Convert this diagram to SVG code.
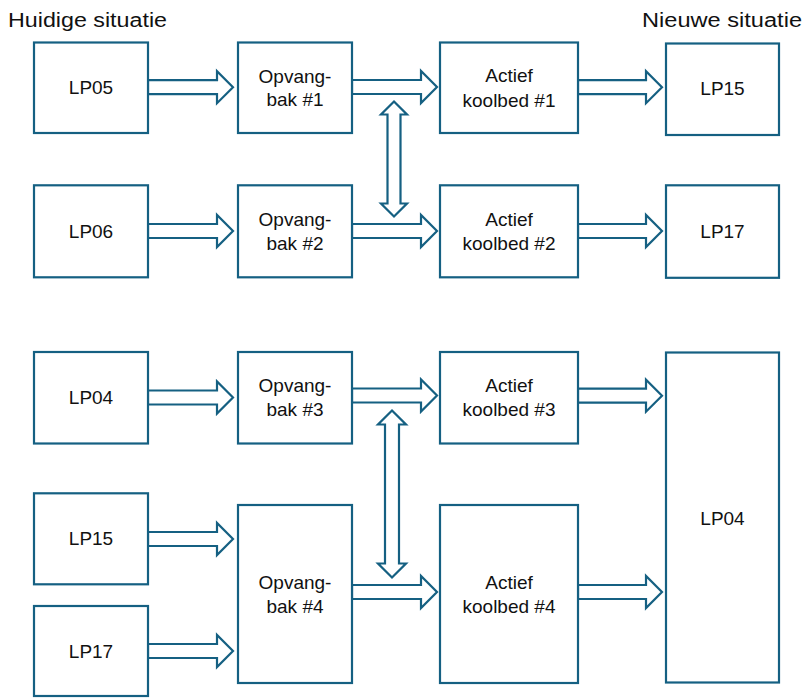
<svg xmlns="http://www.w3.org/2000/svg" width="805" height="698" viewBox="0 0 805 698">
<style>
.box{fill:#ffffff;stroke:#156082;stroke-width:2.2}
.arr{fill:#ffffff;stroke:#156082;stroke-width:2.2;stroke-linejoin:miter}
.t{font-family:"Liberation Sans",Arial,sans-serif;font-size:19px;fill:#111111;text-anchor:middle}
.h{font-family:"Liberation Sans",Arial,sans-serif;font-size:20px;fill:#111111}
</style>
<rect width="805" height="698" fill="#ffffff"/>
<g id="headings">
<text class="h" x="8" y="27" textLength="159" lengthAdjust="spacingAndGlyphs">Huidige situatie</text>
<text class="h" x="642" y="27" textLength="160" lengthAdjust="spacingAndGlyphs">Nieuwe situatie</text>
</g>
<g id="connectors">
<polygon class="arr" points="148,80.2 217,80.2 217,71.2 233,87.2 217,103.2 217,94.2 148,94.2"/>
<polygon class="arr" points="352,80 421,80 421,71 437,87 421,103 421,94 352,94"/>
<polygon class="arr" points="578,80.2 646,80.2 646,71.2 662,87.2 646,103.2 646,94.2 578,94.2"/>
<polygon class="arr" points="148,224 217,224 217,215 233,231 217,247 217,238 148,238"/>
<polygon class="arr" points="352,224 421,224 421,215 437,231 421,247 421,238 352,238"/>
<polygon class="arr" points="578,224 646,224 646,215 662,231 646,247 646,238 578,238"/>
<polygon class="arr" points="148,390.5 217,390.5 217,381.5 233,397.5 217,413.5 217,404.5 148,404.5"/>
<polygon class="arr" points="352,388.5 421,388.5 421,379.5 437,395.5 421,411.5 421,402.5 352,402.5"/>
<polygon class="arr" points="578,388.7 646,388.7 646,379.7 662,395.7 646,411.7 646,402.7 578,402.7"/>
<polygon class="arr" points="148,532 217,532 217,523 233,539 217,555 217,546 148,546"/>
<polygon class="arr" points="148,644 217,644 217,635 233,651 217,667 217,658 148,658"/>
<polygon class="arr" points="352,585 421,585 421,576 437,592 421,608 421,599 352,599"/>
<polygon class="arr" points="578,585 646,585 646,576 662,592 646,608 646,599 578,599"/>
<polygon class="arr" points="394,101.5 407,114.5 400.5,114.5 400.5,203.5 407,203.5 394,216.5 381,203.5 387.5,203.5 387.5,114.5 381,114.5"/>
<polygon class="arr" points="392,410.5 406,424.5 399,424.5 399,563.5 406,563.5 392,577.5 378,563.5 385,563.5 385,424.5 378,424.5"/>
</g>
<g id="lp05"><rect class="box" x="34" y="42.5" width="114" height="90.5"/><text class="t" x="91" y="93.5">LP05</text></g>
<g id="lp06"><rect class="box" x="34" y="185.3" width="114" height="92"/><text class="t" x="91" y="237.5">LP06</text></g>
<g id="lp04-in"><rect class="box" x="34" y="352" width="114" height="91.5"/><text class="t" x="91" y="403.5">LP04</text></g>
<g id="lp15-in"><rect class="box" x="34" y="493.3" width="114" height="91"/><text class="t" x="91" y="545">LP15</text></g>
<g id="lp17-in"><rect class="box" x="34" y="606" width="114" height="90"/><text class="t" x="91" y="657.5">LP17</text></g>
<g id="opvang1"><rect class="box" x="238" y="42.5" width="114" height="90.5"/><text class="t" x="295" y="82.5">Opvang-</text><text class="t" x="295" y="106">bak #1</text></g>
<g id="opvang2"><rect class="box" x="238" y="185.3" width="114" height="92"/><text class="t" x="295" y="226">Opvang-</text><text class="t" x="295" y="250">bak #2</text></g>
<g id="opvang3"><rect class="box" x="238" y="352" width="114" height="91.5"/><text class="t" x="295" y="392">Opvang-</text><text class="t" x="295" y="416">bak #3</text></g>
<g id="opvang4"><rect class="box" x="238" y="505" width="114" height="178"/><text class="t" x="295" y="589">Opvang-</text><text class="t" x="295" y="613">bak #4</text></g>
<g id="actief1"><rect class="box" x="440" y="42.5" width="138" height="90.5"/><text class="t" x="509" y="82">Actief</text><text class="t" x="509" y="106.5">koolbed #1</text></g>
<g id="actief2"><rect class="box" x="440" y="185.3" width="138" height="92"/><text class="t" x="509" y="226">Actief</text><text class="t" x="509" y="250">koolbed #2</text></g>
<g id="actief3"><rect class="box" x="440" y="352" width="138" height="91.5"/><text class="t" x="509" y="392">Actief</text><text class="t" x="509" y="416">koolbed #3</text></g>
<g id="actief4"><rect class="box" x="440" y="505" width="138" height="178"/><text class="t" x="509" y="589">Actief</text><text class="t" x="509" y="613">koolbed #4</text></g>
<g id="lp15-out"><rect class="box" x="666" y="43.5" width="113" height="91.5"/><text class="t" x="722.5" y="95">LP15</text></g>
<g id="lp17-out"><rect class="box" x="666" y="185.3" width="113" height="92.5"/><text class="t" x="722.5" y="237.5">LP17</text></g>
<g id="lp04-out"><rect class="box" x="666" y="352.5" width="113" height="330"/><text class="t" x="722.5" y="524.5">LP04</text></g>
</svg>
